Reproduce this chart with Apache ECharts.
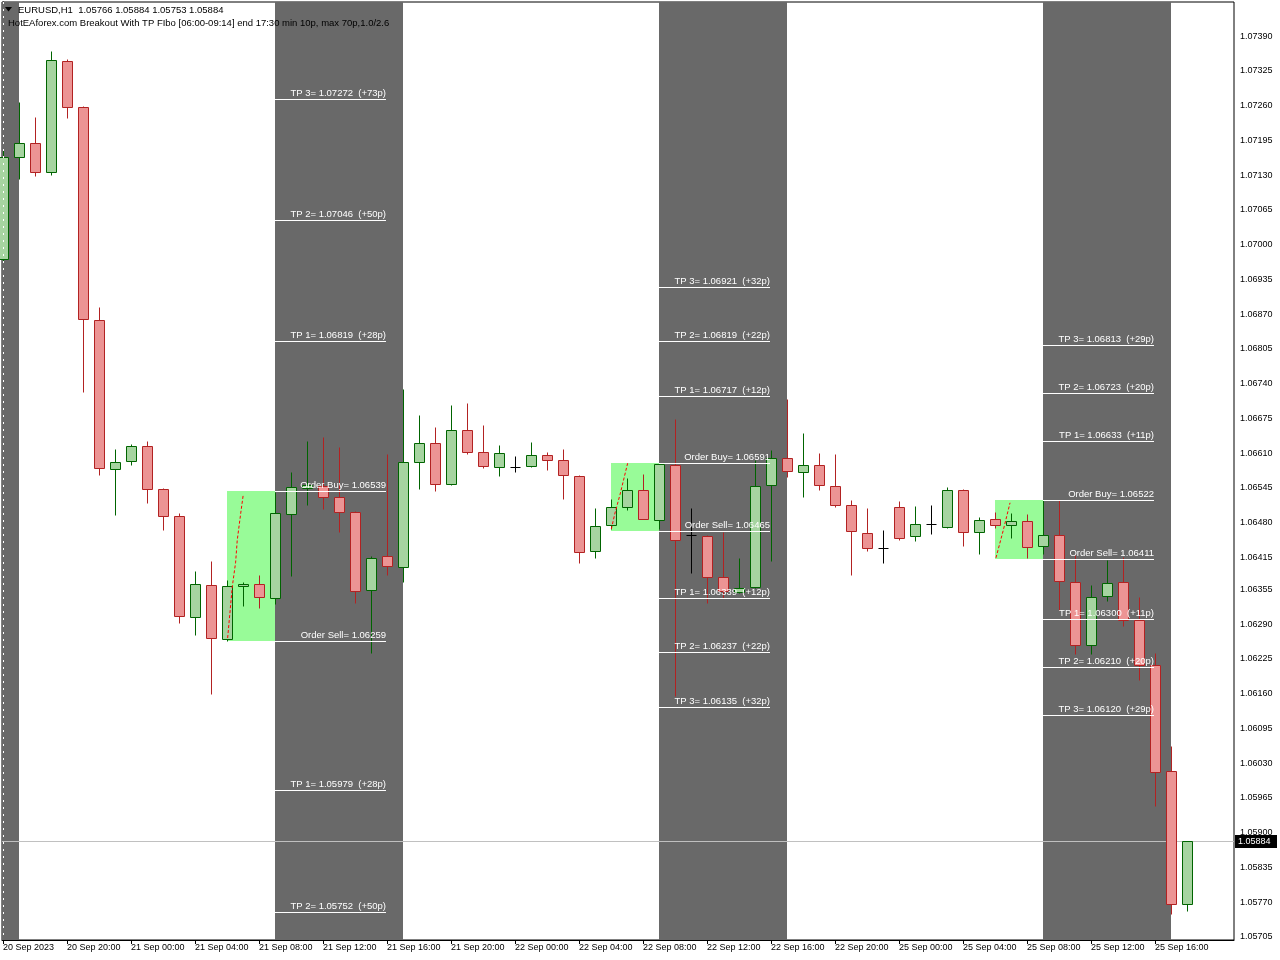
<!DOCTYPE html>
<html><head><meta charset="utf-8">
<script src="https://cdn.jsdelivr.net/npm/echarts@6/dist/echarts.min.js"></script>
<style>html,body{margin:0;padding:0;background:#fff}#c{width:1280px;height:960px}</style>
</head><body><div id="c"></div>
<script>
const FONT = 'Liberation Sans';
const symbolInfo = 'EURUSD,H1  1.05766 1.05884 1.05753 1.05884';
const indicatorInfo = 'HotEAforex.com Breakout With TP FIbo [06:00-09:14] end 17:30 min 10p, max 70p,1.0/2.6';

const timeLabels = ['20 Sep 2023','20 Sep 20:00','21 Sep 00:00','21 Sep 04:00','21 Sep 08:00','21 Sep 12:00','21 Sep 16:00','21 Sep 20:00','22 Sep 00:00','22 Sep 04:00','22 Sep 08:00','22 Sep 12:00','22 Sep 16:00','22 Sep 20:00','25 Sep 00:00','25 Sep 04:00','25 Sep 08:00','25 Sep 12:00','25 Sep 16:00'];
const timeLabelBars = [0,4,8,12,16,20,24,28,32,36,40,44,48,52,56,60,64,68,72];
const priceLabels = ['1.07390','1.07325','1.07260','1.07195','1.07130','1.07065','1.07000','1.06935','1.06870','1.06805','1.06740','1.06675','1.06610','1.06545','1.06480','1.06415','1.06355','1.06290','1.06225','1.06160','1.06095','1.06030','1.05965','1.05900','1.05835','1.05770','1.05705'];

const opens = [1.06973,1.07164,1.07190,1.07136,1.07343,1.07257,1.06859,1.06580,1.06595,1.06623,
1.06543,1.06492,1.06303,1.06363,1.06262,1.06361,1.06365,1.06339,1.06496,1.06545,
1.06548,1.06528,1.06500,1.06354,1.06418,1.06397,1.06593,1.06629,1.06552,1.06653,
1.06612,1.06584,1.06584,1.06586,1.06606,1.06597,1.06567,1.06427,1.06475,1.06509,
1.06541,1.06485,1.06588,1.06457,1.06455,1.06378,1.06350,1.06360,1.06550,1.06601,
1.06575,1.06588,1.06548,1.06513,1.06461,1.06432,1.06509,1.06455,1.06477,1.06472,
1.06541,1.06462,1.06487,1.06475,1.06483,1.06436,1.06457,1.06369,1.06251,1.06343,
1.06369,1.06298,1.06214,1.06015,1.05766];
const highs = [1.07177,1.07267,1.07238,1.07362,1.07347,1.07259,1.06883,1.06618,1.06627,1.06633,
1.06545,1.06498,1.06389,1.06408,1.06373,1.06369,1.06382,1.06537,1.06575,1.06633,
1.06640,1.06621,1.06502,1.06418,1.06608,1.06730,1.06681,1.06659,1.06700,1.06704,
1.06662,1.06625,1.06605,1.06631,1.06612,1.06618,1.06569,1.06507,1.06524,1.06563,
1.06571,1.06591,1.06674,1.06507,1.06457,1.06462,1.06414,1.06597,1.06616,1.06711,
1.06648,1.06610,1.06608,1.06522,1.06507,1.06466,1.06520,1.06511,1.06513,1.06547,
1.06543,1.06490,1.06500,1.06498,1.06496,1.06522,1.06522,1.06419,1.06363,1.06410,
1.06416,1.06341,1.06236,1.06062,1.05884];
const lows = [1.06967,1.07123,1.07128,1.07130,1.07237,1.06724,1.06569,1.06494,1.06588,1.06517,
1.06466,1.06292,1.06270,1.06159,1.06259,1.06324,1.06320,1.06328,1.06380,1.06513,
1.06505,1.06462,1.06330,1.06236,1.06382,1.06369,1.06543,1.06539,1.06550,1.06608,
1.06582,1.06567,1.06575,1.06584,1.06578,1.06524,1.06404,1.06414,1.06468,1.06504,
1.06487,1.06468,1.06156,1.06386,1.06330,1.06339,1.06348,1.06358,1.06408,1.06565,
1.06528,1.06541,1.06509,1.06382,1.06427,1.06404,1.06447,1.06446,1.06459,1.06470,
1.06436,1.06421,1.06470,1.06451,1.06414,1.06421,1.06317,1.06234,1.06234,1.06333,
1.06287,1.06186,1.05950,1.05748,1.05753];
const closes = [1.07164,1.07190,1.07136,1.07345,1.07257,1.06861,1.06582,1.06593,1.06623,1.06543,
1.06492,1.06305,1.06365,1.06264,1.06361,1.06365,1.06341,1.06498,1.06547,1.06550,
1.06528,1.06500,1.06352,1.06414,1.06399,1.06593,1.06629,1.06552,1.06653,1.06612,
1.06586,1.06610,1.06584,1.06606,1.06597,1.06569,1.06425,1.06474,1.06509,1.06541,
1.06487,1.06590,1.06447,1.06457,1.06378,1.06352,1.06358,1.06548,1.06601,1.06576,
1.06588,1.06550,1.06513,1.06464,1.06432,1.06432,1.06451,1.06477,1.06477,1.06541,
1.06462,1.06485,1.06475,1.06483,1.06434,1.06457,1.06371,1.06251,1.06341,1.06367,
1.06298,1.06214,1.06014,1.05767,1.05884];
const currentPrice = 1.05884;

// trading sessions (bar index units)
const sessionStart = [-2, 17, 41, 65];
const sessionEnd = [1, 25, 49, 73];
// breakout range boxes
const rangeStart = [14, 38, 62];
const rangeEnd = [17, 41, 65];
const rangeHigh = [1.06539, 1.06591, 1.06522];
const rangeLow = [1.06259, 1.06465, 1.06411];
// range trend (red dashed)
const trendBars = [[14.04,14.33,14.54,14.64,14.86,15.02],[38.02,38.25,38.56,39.04],[62.06,62.52,62.94]];
const trendPrices = [[1.06264,1.06360,1.06406,1.06447,1.06498,1.06533],[1.06468,1.06498,1.06532,1.06591],[1.06414,1.06466,1.06517]];
// level lines
const levelFrom = [17, 41, 65];
const levelTo = [23.94, 47.94, 71.94];
const levelPrices = [
  [1.07272, 1.07046, 1.06819, 1.06539, 1.06259, 1.05979, 1.05752],
  [1.06921, 1.06819, 1.06717, 1.06591, 1.06465, 1.06339, 1.06237, 1.06135],
  [1.06813, 1.06723, 1.06633, 1.06522, 1.06411, 1.06300, 1.06210, 1.06120]
];
const levelLabels = [
  ['TP 3= 1.07272  (+73p)','TP 2= 1.07046  (+50p)','TP 1= 1.06819  (+28p)','Order Buy= 1.06539','Order Sell= 1.06259','TP 1= 1.05979  (+28p)','TP 2= 1.05752  (+50p)'],
  ['TP 3= 1.06921  (+32p)','TP 2= 1.06819  (+22p)','TP 1= 1.06717  (+12p)','Order Buy= 1.06591','Order Sell= 1.06465','TP 1= 1.06339  (+12p)','TP 2= 1.06237  (+22p)','TP 3= 1.06135  (+32p)'],
  ['TP 3= 1.06813  (+29p)','TP 2= 1.06723  (+20p)','TP 1= 1.06633  (+11p)','Order Buy= 1.06522','Order Sell= 1.06411','TP 1= 1.06300  (+11p)','TP 2= 1.06210  (+20p)','TP 3= 1.06120  (+29p)']
];

const candleData = opens.map((o, i) => [i, o, highs[i], lows[i], closes[i]]);
const levelData = [];
const levelText = [];
levelPrices.forEach((arr, s) => arr.forEach((p, j) => { levelData.push([levelFrom[s], levelTo[s], p]); levelText.push(levelLabels[s][j]); }));

const chart = echarts.init(document.getElementById('c'), null, {renderer: 'canvas'});
const snap = v => Math.round(v) + 0.5;
function clipRect(r, cs) {
  return echarts.graphic.clipRectByRect(r, {x: cs.x, y: cs.y, width: cs.width, height: cs.height});
}

chart.setOption({
  animation: false,
  backgroundColor: '#ffffff',
  grid: {left: 2, right: 46, top: 2, bottom: 20, show: true, borderColor: '#000', borderWidth: 1, backgroundColor: '#fff'},
  xAxis: {
    type: 'value', min: -0.0625, max: 76.9375,
    axisLine: {show: true, lineStyle: {color: '#000', width: 1}},
    axisTick: {show: true, length: 4, lineStyle: {color: '#000'}, customValues: timeLabelBars},
    axisLabel: {show: true, customValues: timeLabelBars, formatter: v => timeLabels[timeLabelBars.indexOf(Math.round(v))], align: 'left', margin: 3, color: '#000', fontSize: 9, fontFamily: FONT},
    splitLine: {show: false}
  },
  yAxis: {
    type: 'value', position: 'right', min: 1.05699, max: 1.07454, scale: true,
    axisLine: {show: true, lineStyle: {color: '#000', width: 1}},
    axisTick: {show: true, length: 4, lineStyle: {color: '#000'}, customValues: priceLabels.map(Number)},
    axisLabel: {show: true, customValues: priceLabels.map(Number), formatter: v => v.toFixed(5), margin: 6, color: '#000', fontSize: 9, fontFamily: FONT},
    splitLine: {show: false}
  },
  graphic: [
    {type: 'polygon', shape: {points: [[5, 7], [12, 7], [8.5, 11.5]]}, style: {fill: '#000'}, z: 100},
    {type: 'text', x: 18, y: 10, style: {text: symbolInfo, fill: '#000', font: '9.5px ' + FONT, verticalAlign: 'middle'}, z: 100},
    {type: 'text', x: 8, y: 23, style: {text: indicatorInfo, fill: '#000', font: '9.5px ' + FONT, verticalAlign: 'middle'}, z: 100}
  ],
  series: [
    {
      type: 'custom', name: 'sessions', z: 1, silent: true,
      data: sessionStart.map((s, i) => [s, sessionEnd[i]]),
      encode: {x: [0, 1]},
      renderItem(params, api) {
        const cs = params.coordSys;
        const x0 = Math.round(api.coord([api.value(0), 1.065])[0]);
        const x1 = Math.round(api.coord([api.value(1), 1.065])[0]);
        const r = clipRect({x: x0, y: cs.y, width: x1 - x0, height: cs.height}, cs);
        return r ? {type: 'rect', shape: r, style: {fill: '#696969'}} : null;
      }
    },
    {
      type: 'custom', name: 'ranges', z: 2, silent: true,
      data: rangeStart.map((s, i) => [s, rangeEnd[i], rangeHigh[i], rangeLow[i]]),
      encode: {x: [0, 1], y: [2, 3]},
      renderItem(params, api) {
        const a = api.coord([api.value(0), api.value(2)]);
        const b = api.coord([api.value(1), api.value(3)]);
        return {type: 'rect', shape: {x: Math.round(a[0]), y: Math.round(a[1]), width: Math.round(b[0]) - Math.round(a[0]), height: Math.round(b[1]) - Math.round(a[1])}, style: {fill: '#98fb98'}};
      }
    },
    {
      type: 'custom', name: 'current', z: 3, silent: true, clip: false,
      data: [[currentPrice]],
      encode: {y: 0},
      renderItem(params, api) {
        const cs = params.coordSys;
        const y = snap(api.coord([0, api.value(0)])[1]);
        return {type: 'group', children: [
          {type: 'line', shape: {x1: cs.x, y1: y, x2: cs.x + cs.width, y2: y}, style: {stroke: '#c0c0c0', lineWidth: 1}},
          {type: 'rect', shape: {x: cs.x + cs.width + 1, y: Math.round(y) - 7, width: 42, height: 13}, style: {fill: '#000'}},
          {type: 'text', x: cs.x + cs.width + 4, y: Math.round(y), style: {text: currentPrice.toFixed(5), fill: '#fff', font: '9px ' + FONT, verticalAlign: 'middle'}}
        ]};
      }
    },
    {
      type: 'custom', name: 'candles', z: 4, silent: true,
      data: candleData,
      encode: {x: 0, y: [1, 2, 3, 4]},
      renderItem(params, api) {
        const k = api.value(0), o = api.value(1), h = api.value(2), l = api.value(3), c = api.value(4);
        const pO = api.coord([k, o]);
        const cx = snap(pO[0]);
        const yO = snap(pO[1]), yC = snap(api.coord([k, c])[1]);
        const yH = snap(api.coord([k, h])[1]), yL = snap(api.coord([k, l])[1]);
        const flat = o === c, up = c > o;
        const stroke = flat ? '#000' : (up ? '#006400' : '#b22222');
        const fill = up ? '#a6d4a0' : '#ec9494';
        const ch = [{type: 'line', shape: {x1: cx, y1: yH, x2: cx, y2: yL}, style: {stroke, lineWidth: 1}}];
        if (flat) {
          ch.push({type: 'line', shape: {x1: cx - 5, y1: yO, x2: cx + 5, y2: yO}, style: {stroke, lineWidth: 1}});
        } else {
          const top = Math.min(yO, yC), bot = Math.max(yO, yC);
          ch.push({type: 'rect', shape: {x: cx - 5, y: top, width: 10, height: Math.max(bot - top, 1)}, style: {fill, stroke, lineWidth: 1}});
        }
        return {type: 'group', children: ch};
      }
    },
    {
      type: 'custom', name: 'separator', z: 5, silent: true,
      data: [[0]],
      encode: {x: 0},
      renderItem(params, api) {
        const cs = params.coordSys;
        const x = snap(api.coord([api.value(0), 1.065])[0]);
        return {type: 'line', shape: {x1: x, y1: cs.y, x2: x, y2: cs.y + cs.height}, style: {stroke: '#ffffff', lineWidth: 1, lineDash: [2, 5]}};
      }
    },
    ...trendBars.map((bars, t) => ({
      type: 'line', z: 6, silent: true, symbol: 'none',
      data: bars.map((b, i) => [b, trendPrices[t][i]]),
      lineStyle: {color: '#ff0000', width: 1, type: [3, 2]}
    })),
    {
      type: 'custom', name: 'levels', z: 7, silent: true,
      data: levelData,
      encode: {x: [0, 1], y: 2},
      renderItem(params, api) {
        const a = api.coord([api.value(0), api.value(2)]);
        const b = api.coord([api.value(1), api.value(2)]);
        const y = snap(a[1]);
        return {type: 'group', children: [
          {type: 'line', shape: {x1: Math.round(a[0]), y1: y, x2: Math.round(b[0]), y2: y}, style: {stroke: '#ffffff', lineWidth: 1}},
          {type: 'text', x: Math.round(b[0]), y: y - 1, style: {text: levelText[params.dataIndex], fill: '#ffffff', font: '9.5px ' + FONT, align: 'right', verticalAlign: 'bottom'}}
        ]};
      }
    }
  ]
});
</script></body></html>
